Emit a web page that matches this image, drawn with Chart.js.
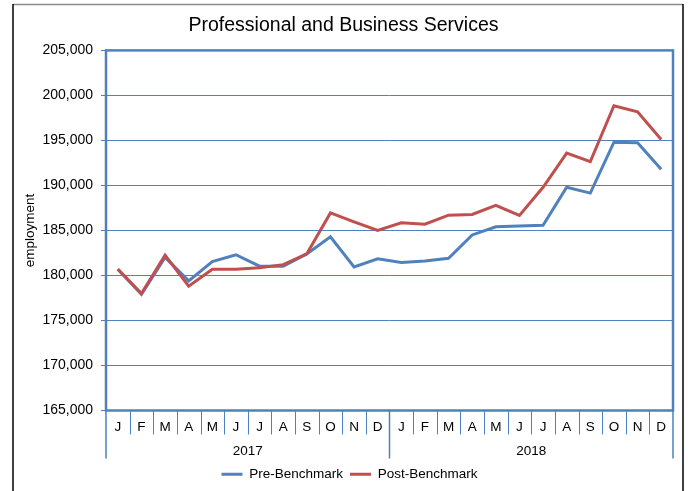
<!DOCTYPE html>
<html>
<head>
<meta charset="utf-8">
<script src="https://cdn.jsdelivr.net/npm/chart.js@4.4.1/dist/chart.umd.min.js"></script>
<style>
  html, body { margin: 0; padding: 0; background: #fff; }
  #wrap { width: 688px; height: 491px; }
</style>
</head>
<body>
<div id="wrap"><canvas id="chart" width="688" height="491"></canvas></div>
<script>
// Monthly employment, Professional and Business Services
const monthLetters = ['J','F','M','A','M','J','J','A','S','O','N','D'];
const years = ['2017', '2018'];
const preBenchmark = [
  180700, 177900, 182000, 179400, 181550, 182300, 181030, 181030, 182400, 184300, 180950, 181850,
  181450, 181600, 181900, 184500, 185400, 185500, 185580, 189800, 189150, 194800, 194750, 191800
];
const postBenchmark = [
  180700, 178000, 182250, 178800, 180700, 180700, 180850, 181200, 182400, 186950, 185950, 185000,
  185850, 185700, 186700, 186780, 187780, 186670, 189800, 193600, 192650, 198850, 198180, 195100
];
const yMin = 165000, yMax = 205000, yStep = 5000;

const labels = [];
years.forEach(() => monthLetters.forEach(m => labels.push(m)));

const BLUE = '#4F81BD';
const RED = '#C0504D';
const FONT = "'Liberation Sans', Arial, sans-serif";

Chart.defaults.font.family = FONT;
Chart.defaults.color = '#000';

// Frame, plot border, month cells and year groups under the x axis
const decorations = {
  id: 'decorations',
  afterLayout(chart) {
    // nudge the legend row a little to the right
    if (chart.legend) chart.legend.left += 12;
  },
  beforeDraw(chart) {
    const ctx = chart.ctx;
    ctx.save();
    ctx.fillStyle = '#fff';
    ctx.fillRect(0, 0, chart.width, chart.height);
    ctx.strokeStyle = '#8c8c8c';
    ctx.lineWidth = 1.5;
    ctx.beginPath();
    ctx.moveTo(13, 4.5); ctx.lineTo(683, 4.5);
    ctx.stroke();
    ctx.strokeStyle = '#000';
    ctx.lineWidth = 1.5;
    ctx.beginPath();
    ctx.moveTo(13, 4); ctx.lineTo(13, chart.height);
    ctx.moveTo(683, 4); ctx.lineTo(683, chart.height);
    ctx.stroke();
    ctx.restore();
  },
  afterDatasetsDraw(chart) {
    const {ctx, chartArea: a} = chart;
    ctx.save();
    ctx.strokeStyle = BLUE;
    ctx.lineWidth = 2.5;
    ctx.strokeRect(a.left, a.top, a.right - a.left, a.bottom - a.top);
    ctx.restore();
  },
  afterDraw(chart) {
    const {ctx, chartArea: a} = chart;
    const xs = chart.scales.x;
    const half = (xs.getPixelForValue(1) - xs.getPixelForValue(0)) / 2;
    const edge = i => (i < labels.length ? xs.getPixelForValue(i) - half : xs.getPixelForValue(labels.length - 1) + half);
    ctx.save();
    ctx.strokeStyle = BLUE;
    // month cell separators
    ctx.lineWidth = 1;
    ctx.beginPath();
    for (let i = 1; i < labels.length; i++) {
      if (i % monthLetters.length === 0) continue;
      const x = Math.round(edge(i)) + 0.5;
      ctx.moveTo(x, a.bottom);
      ctx.lineTo(x, a.bottom + 24);
    }
    ctx.stroke();
    // year group separators
    ctx.lineWidth = 1.5;
    ctx.beginPath();
    for (let g = 0; g <= years.length; g++) {
      const x = edge(g * monthLetters.length);
      ctx.moveTo(x, a.bottom);
      ctx.lineTo(x, a.bottom + 48);
    }
    ctx.stroke();
    // year labels
    ctx.fillStyle = '#000';
    ctx.font = '13.5px ' + FONT;
    ctx.textAlign = 'center';
    ctx.textBaseline = 'middle';
    years.forEach((y, g) => {
      const x0 = edge(g * monthLetters.length);
      const x1 = edge((g + 1) * monthLetters.length);
      ctx.fillText(y, (x0 + x1) / 2, a.bottom + 41);
    });
    ctx.restore();
  }
};

new Chart(document.getElementById('chart'), {
  type: 'line',
  data: {
    labels: labels,
    datasets: [
      {
        label: 'Pre-Benchmark',
        data: preBenchmark,
        borderColor: BLUE,
        backgroundColor: BLUE,
        borderWidth: 3,
        pointRadius: 0,
        tension: 0,
        order: 1
      },
      {
        label: 'Post-Benchmark',
        data: postBenchmark,
        borderColor: RED,
        backgroundColor: RED,
        borderWidth: 3,
        pointRadius: 0,
        tension: 0,
        order: 0
      }
    ]
  },
  options: {
    responsive: false,
    animation: false,
    layout: { padding: { left: 14, right: 15, top: 5, bottom: 0 } },
    plugins: {
      title: {
        display: true,
        text: 'Professional and Business Services',
        font: { size: 19.5, weight: 'normal', family: FONT },
        color: '#000',
        padding: { top: 9, bottom: 13 }
      },
      legend: {
        position: 'bottom',
        labels: {
          usePointStyle: true,
          pointStyle: 'line',
          pointStyleWidth: 21,
          boxHeight: 13,
          padding: 7,
          font: { size: 13.5, family: FONT },
          color: '#000',
          sort: (a, b) => a.datasetIndex - b.datasetIndex
        }
      },
      tooltip: { enabled: false }
    },
    scales: {
      x: {
        type: 'category',
        offset: true,
        grid: { display: false, drawTicks: false, tickLength: 0 },
        border: { display: false },
        ticks: {
          autoSkip: false,
          maxRotation: 0,
          padding: 9,
          font: { size: 13.5, family: FONT },
          color: '#000'
        },
        afterFit: s => { s.height = 50; }
      },
      y: {
        min: yMin,
        max: yMax,
        ticks: {
          stepSize: yStep,
          padding: 8,
          font: { size: 14, family: FONT },
          color: '#000'
        },
        grid: { color: BLUE, lineWidth: 1, tickLength: 5, drawTicks: true },
        border: { display: false },
        title: {
          display: true,
          text: 'employment',
          font: { size: 13.5, family: FONT },
          color: '#000',
          padding: { top: 8, bottom: 0 }
        },
        afterFit: s => { s.width = 92; }
      }
    }
  },
  plugins: [decorations]
});
</script>
</body>
</html>
